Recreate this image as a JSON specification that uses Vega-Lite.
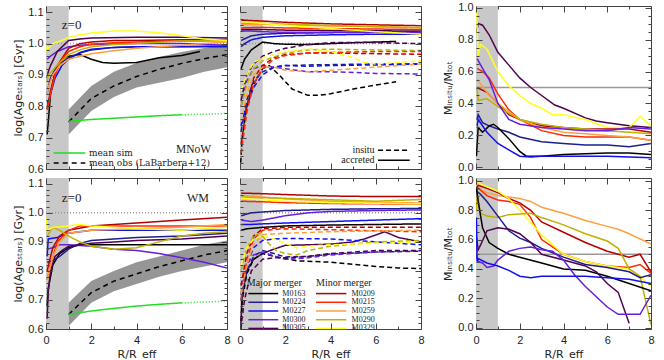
{
"$schema":"https://vega.github.io/schema/vega-lite/v6.json",
"background":"white",
"padding":{"left":12,"top":1,"right":2,"bottom":0},
"config":{
 "view":{"stroke":"#444","strokeWidth":1},
 "axis":{"domain":false,"grid":false,"tickColor":"#444","labelFont":"Liberation Sans","labelFontSize":11,"labelColor":"#222","titleFont":"DejaVu Sans","titleFontSize":11,"titleFontWeight":"normal","titleColor":"#222","labelOverlap":false,"labelFlush":false,"tickWidth":1},
 "text":{"font":"Liberation Serif","fontSize":10.5,"color":"#222"},
 "line":{"strokeWidth":1.5}
},
"datasets":{
"obs":[
{"r":"N","x":1,"lo":0.71,"hi":0.79,"m":0.75},{"r":"N","x":2,"lo":0.785,"hi":0.865,"m":0.825},{"r":"N","x":3,"lo":0.83,"hi":0.91,"m":0.865},{"r":"N","x":4,"lo":0.86,"hi":0.938,"m":0.895},{"r":"N","x":5,"lo":0.875,"hi":0.957,"m":0.918},{"r":"N","x":6,"lo":0.89,"hi":0.973,"m":0.937},{"r":"N","x":7,"lo":0.91,"hi":0.986,"m":0.952},{"r":"N","x":8,"lo":0.925,"hi":0.997,"m":0.965},
{"r":"W","x":1,"lo":0.61,"hi":0.69,"m":0.65},{"r":"W","x":2,"lo":0.69,"hi":0.765,"m":0.725},{"r":"W","x":3,"lo":0.73,"hi":0.8,"m":0.765},{"r":"W","x":4,"lo":0.755,"hi":0.83,"m":0.79},{"r":"W","x":5,"lo":0.78,"hi":0.85,"m":0.815},{"r":"W","x":6,"lo":0.8,"hi":0.87,"m":0.835},{"r":"W","x":7,"lo":0.815,"hi":0.89,"m":0.855},{"r":"W","x":8,"lo":0.83,"hi":0.905,"m":0.87}
],
"sim":[
{"r":"N","s":"s","x":1,"y":0.752},{"r":"N","s":"s","x":2,"y":0.758},{"r":"N","s":"s","x":3,"y":0.762},{"r":"N","s":"s","x":4,"y":0.766},{"r":"N","s":"s","x":5,"y":0.77},{"r":"N","s":"s","x":6,"y":0.773},{"r":"N","s":"d","x":6,"y":0.773},{"r":"N","s":"d","x":7,"y":0.775},{"r":"N","s":"d","x":8,"y":0.777},
{"r":"W","s":"s","x":1,"y":0.65},{"r":"W","s":"s","x":2,"y":0.662},{"r":"W","s":"s","x":3,"y":0.671},{"r":"W","s":"s","x":4,"y":0.679},{"r":"W","s":"s","x":5,"y":0.685},{"r":"W","s":"s","x":6,"y":0.69},{"r":"W","s":"d","x":6,"y":0.69},{"r":"W","s":"d","x":7,"y":0.693},{"r":"W","s":"d","x":8,"y":0.696}
],
"tot":[
{"r":"N","g":"M0163","x":0.05,"y":0.71},{"r":"N","g":"M0163","x":0.1,"y":0.75},{"r":"N","g":"M0163","x":0.2,"y":0.84},{"r":"N","g":"M0163","x":0.4,"y":0.91},{"r":"N","g":"M0163","x":0.7,"y":0.95},{"r":"N","g":"M0163","x":1,"y":0.96},{"r":"N","g":"M0163","x":1.5,"y":0.965},{"r":"N","g":"M0163","x":2,"y":0.95},{"r":"N","g":"M0163","x":2.5,"y":0.94},{"r":"N","g":"M0163","x":3,"y":0.937},{"r":"N","g":"M0163","x":4,"y":0.94},{"r":"N","g":"M0163","x":5,"y":0.955},{"r":"N","g":"M0163","x":6,"y":0.962},{"r":"N","g":"M0163","x":6.8,"y":0.975},
{"r":"N","g":"M0224","x":0.05,"y":0.84},{"r":"N","g":"M0224","x":0.1,"y":0.86},{"r":"N","g":"M0224","x":0.2,"y":0.89},{"r":"N","g":"M0224","x":0.5,"y":0.93},{"r":"N","g":"M0224","x":1,"y":0.955},{"r":"N","g":"M0224","x":1.5,"y":0.97},{"r":"N","g":"M0224","x":2,"y":0.98},{"r":"N","g":"M0224","x":3,"y":0.988},{"r":"N","g":"M0224","x":4,"y":0.99},{"r":"N","g":"M0224","x":6,"y":0.99},{"r":"N","g":"M0224","x":8,"y":0.99},
{"r":"N","g":"M0227","x":0.05,"y":0.82},{"r":"N","g":"M0227","x":0.1,"y":0.81},{"r":"N","g":"M0227","x":0.2,"y":0.84},{"r":"N","g":"M0227","x":0.4,"y":0.89},{"r":"N","g":"M0227","x":0.7,"y":0.93},{"r":"N","g":"M0227","x":1,"y":0.95},{"r":"N","g":"M0227","x":1.5,"y":0.972},{"r":"N","g":"M0227","x":2,"y":0.982},{"r":"N","g":"M0227","x":3,"y":0.988},{"r":"N","g":"M0227","x":4,"y":0.99},{"r":"N","g":"M0227","x":6,"y":0.991},{"r":"N","g":"M0227","x":8,"y":0.992},
{"r":"N","g":"M0300","x":0.05,"y":0.95},{"r":"N","g":"M0300","x":0.2,"y":0.96},{"r":"N","g":"M0300","x":0.5,"y":0.975},{"r":"N","g":"M0300","x":1,"y":0.99},{"r":"N","g":"M0300","x":1.5,"y":0.995},{"r":"N","g":"M0300","x":2,"y":0.997},{"r":"N","g":"M0300","x":4,"y":1.0},{"r":"N","g":"M0300","x":6,"y":1.0},{"r":"N","g":"M0300","x":8,"y":0.995},
{"r":"N","g":"M0305","x":0.05,"y":0.89},{"r":"N","g":"M0305","x":0.1,"y":0.91},{"r":"N","g":"M0305","x":0.2,"y":0.93},{"r":"N","g":"M0305","x":0.5,"y":0.975},{"r":"N","g":"M0305","x":1,"y":1.01},{"r":"N","g":"M0305","x":1.5,"y":1.015},{"r":"N","g":"M0305","x":2,"y":1.018},{"r":"N","g":"M0305","x":4,"y":1.02},{"r":"N","g":"M0305","x":6,"y":1.02},{"r":"N","g":"M0305","x":8,"y":1.018},
{"r":"N","g":"M0209","x":0.05,"y":0.79},{"r":"N","g":"M0209","x":0.1,"y":0.81},{"r":"N","g":"M0209","x":0.2,"y":0.85},{"r":"N","g":"M0209","x":0.5,"y":0.93},{"r":"N","g":"M0209","x":1,"y":0.985},{"r":"N","g":"M0209","x":1.5,"y":1.0},{"r":"N","g":"M0209","x":2,"y":1.005},{"r":"N","g":"M0209","x":3,"y":1.01},{"r":"N","g":"M0209","x":4,"y":1.01},{"r":"N","g":"M0209","x":6,"y":1.012},{"r":"N","g":"M0209","x":8,"y":1.012},
{"r":"N","g":"M0215","x":0.05,"y":0.79},{"r":"N","g":"M0215","x":0.1,"y":0.8},{"r":"N","g":"M0215","x":0.2,"y":0.84},{"r":"N","g":"M0215","x":0.4,"y":0.9},{"r":"N","g":"M0215","x":0.7,"y":0.95},{"r":"N","g":"M0215","x":1,"y":0.975},{"r":"N","g":"M0215","x":1.5,"y":0.99},{"r":"N","g":"M0215","x":2,"y":0.998},{"r":"N","g":"M0215","x":3,"y":1.003},{"r":"N","g":"M0215","x":4,"y":1.005},{"r":"N","g":"M0215","x":6,"y":1.008},{"r":"N","g":"M0215","x":8,"y":1.01},
{"r":"N","g":"M0259","x":0.05,"y":0.84},{"r":"N","g":"M0259","x":0.1,"y":0.86},{"r":"N","g":"M0259","x":0.3,"y":0.9},{"r":"N","g":"M0259","x":0.6,"y":0.93},{"r":"N","g":"M0259","x":1,"y":0.95},{"r":"N","g":"M0259","x":1.5,"y":0.96},{"r":"N","g":"M0259","x":2,"y":0.968},{"r":"N","g":"M0259","x":3,"y":0.977},{"r":"N","g":"M0259","x":4,"y":0.985},{"r":"N","g":"M0259","x":5,"y":0.99},{"r":"N","g":"M0259","x":6,"y":0.995},{"r":"N","g":"M0259","x":7,"y":1.0},{"r":"N","g":"M0259","x":8,"y":1.005},
{"r":"N","g":"M0290","x":0.05,"y":0.88},{"r":"N","g":"M0290","x":0.1,"y":0.9},{"r":"N","g":"M0290","x":0.3,"y":0.915},{"r":"N","g":"M0290","x":0.6,"y":0.94},{"r":"N","g":"M0290","x":1,"y":0.965},{"r":"N","g":"M0290","x":1.5,"y":0.98},{"r":"N","g":"M0290","x":2,"y":0.99},{"r":"N","g":"M0290","x":3,"y":0.997},{"r":"N","g":"M0290","x":4,"y":1.0},{"r":"N","g":"M0290","x":6,"y":1.008},{"r":"N","g":"M0290","x":8,"y":1.01},
{"r":"N","g":"M0329","x":0.02,"y":0.975},{"r":"N","g":"M0329","x":0.05,"y":0.99},{"r":"N","g":"M0329","x":0.1,"y":0.985},{"r":"N","g":"M0329","x":0.3,"y":1.0},{"r":"N","g":"M0329","x":0.7,"y":1.01},{"r":"N","g":"M0329","x":1,"y":1.02},{"r":"N","g":"M0329","x":1.5,"y":1.028},{"r":"N","g":"M0329","x":2,"y":1.034},{"r":"N","g":"M0329","x":3,"y":1.04},{"r":"N","g":"M0329","x":4,"y":1.04},{"r":"N","g":"M0329","x":5,"y":1.035},{"r":"N","g":"M0329","x":6,"y":1.025},{"r":"N","g":"M0329","x":7,"y":1.015},{"r":"N","g":"M0329","x":8,"y":1.01},
{"r":"W","g":"M0163","x":0.05,"y":0.68},{"r":"W","g":"M0163","x":0.1,"y":0.74},{"r":"W","g":"M0163","x":0.3,"y":0.82},{"r":"W","g":"M0163","x":0.6,"y":0.86},{"r":"W","g":"M0163","x":1,"y":0.88},{"r":"W","g":"M0163","x":1.5,"y":0.89},{"r":"W","g":"M0163","x":2,"y":0.89},{"r":"W","g":"M0163","x":4,"y":0.89},{"r":"W","g":"M0163","x":6,"y":0.89},{"r":"W","g":"M0163","x":8,"y":0.89},
{"r":"W","g":"M0224","x":0.05,"y":0.83},{"r":"W","g":"M0224","x":0.3,"y":0.835},{"r":"W","g":"M0224","x":0.6,"y":0.85},{"r":"W","g":"M0224","x":1,"y":0.875},{"r":"W","g":"M0224","x":1.5,"y":0.895},{"r":"W","g":"M0224","x":2,"y":0.905},{"r":"W","g":"M0224","x":3,"y":0.91},{"r":"W","g":"M0224","x":4,"y":0.915},{"r":"W","g":"M0224","x":6,"y":0.92},{"r":"W","g":"M0224","x":8,"y":0.93},
{"r":"W","g":"M0227","x":0.05,"y":0.85},{"r":"W","g":"M0227","x":0.1,"y":0.91},{"r":"W","g":"M0227","x":0.5,"y":0.915},{"r":"W","g":"M0227","x":1,"y":0.93},{"r":"W","g":"M0227","x":2,"y":0.94},{"r":"W","g":"M0227","x":4,"y":0.94},{"r":"W","g":"M0227","x":6,"y":0.94},{"r":"W","g":"M0227","x":8,"y":0.94},
{"r":"W","g":"M0300","x":0.05,"y":0.875},{"r":"W","g":"M0300","x":0.3,"y":0.88},{"r":"W","g":"M0300","x":0.6,"y":0.89},{"r":"W","g":"M0300","x":1,"y":0.89},{"r":"W","g":"M0300","x":2,"y":0.885},{"r":"W","g":"M0300","x":3,"y":0.875},{"r":"W","g":"M0300","x":4,"y":0.87},{"r":"W","g":"M0300","x":5,"y":0.86},{"r":"W","g":"M0300","x":6,"y":0.845},{"r":"W","g":"M0300","x":7,"y":0.83},{"r":"W","g":"M0300","x":8,"y":0.81},
{"r":"W","g":"M0305","x":0.05,"y":0.635},{"r":"W","g":"M0305","x":0.1,"y":0.73},{"r":"W","g":"M0305","x":0.2,"y":0.8},{"r":"W","g":"M0305","x":0.4,"y":0.85},{"r":"W","g":"M0305","x":0.7,"y":0.87},{"r":"W","g":"M0305","x":1,"y":0.885},{"r":"W","g":"M0305","x":2,"y":0.895},{"r":"W","g":"M0305","x":3,"y":0.9},{"r":"W","g":"M0305","x":4,"y":0.905},{"r":"W","g":"M0305","x":6,"y":0.91},{"r":"W","g":"M0305","x":8,"y":0.92},
{"r":"W","g":"M0209","x":0.05,"y":0.8},{"r":"W","g":"M0209","x":0.3,"y":0.88},{"r":"W","g":"M0209","x":0.6,"y":0.92},{"r":"W","g":"M0209","x":1,"y":0.94},{"r":"W","g":"M0209","x":2,"y":0.955},{"r":"W","g":"M0209","x":4,"y":0.965},{"r":"W","g":"M0209","x":6,"y":0.975},{"r":"W","g":"M0209","x":8,"y":0.985},
{"r":"W","g":"M0215","x":0.05,"y":0.77},{"r":"W","g":"M0215","x":0.2,"y":0.82},{"r":"W","g":"M0215","x":0.5,"y":0.9},{"r":"W","g":"M0215","x":1,"y":0.94},{"r":"W","g":"M0215","x":1.5,"y":0.955},{"r":"W","g":"M0215","x":2,"y":0.955},{"r":"W","g":"M0215","x":4,"y":0.955},{"r":"W","g":"M0215","x":6,"y":0.955},{"r":"W","g":"M0215","x":8,"y":0.955},
{"r":"W","g":"M0259","x":0.05,"y":0.77},{"r":"W","g":"M0259","x":0.3,"y":0.85},{"r":"W","g":"M0259","x":0.6,"y":0.9},{"r":"W","g":"M0259","x":1,"y":0.93},{"r":"W","g":"M0259","x":2,"y":0.94},{"r":"W","g":"M0259","x":4,"y":0.945},{"r":"W","g":"M0259","x":6,"y":0.95},{"r":"W","g":"M0259","x":8,"y":0.96},
{"r":"W","g":"M0290","x":0.05,"y":0.92},{"r":"W","g":"M0290","x":0.3,"y":0.95},{"r":"W","g":"M0290","x":0.6,"y":0.94},{"r":"W","g":"M0290","x":1,"y":0.92},{"r":"W","g":"M0290","x":1.5,"y":0.9},{"r":"W","g":"M0290","x":2,"y":0.885},{"r":"W","g":"M0290","x":3,"y":0.875},{"r":"W","g":"M0290","x":4,"y":0.88},{"r":"W","g":"M0290","x":5,"y":0.9},{"r":"W","g":"M0290","x":6,"y":0.92},{"r":"W","g":"M0290","x":7,"y":0.93},{"r":"W","g":"M0290","x":8,"y":0.935},
{"r":"W","g":"M0329","x":0.02,"y":0.98},{"r":"W","g":"M0329","x":0.05,"y":0.94},{"r":"W","g":"M0329","x":0.3,"y":0.95},{"r":"W","g":"M0329","x":1,"y":0.955},{"r":"W","g":"M0329","x":1.5,"y":0.96},{"r":"W","g":"M0329","x":2,"y":0.955},{"r":"W","g":"M0329","x":3,"y":0.95},{"r":"W","g":"M0329","x":4,"y":0.945},{"r":"W","g":"M0329","x":6,"y":0.94},{"r":"W","g":"M0329","x":8,"y":0.95}
],
"comp":[
{"r":"N","g":"M0163","c":"a","x":0.05,"y":0.92},{"r":"N","g":"M0163","c":"a","x":0.2,"y":0.95},{"r":"N","g":"M0163","c":"a","x":0.5,"y":0.98},{"r":"N","g":"M0163","c":"a","x":1,"y":1.005},{"r":"N","g":"M0163","c":"a","x":1.5,"y":1.0},{"r":"N","g":"M0163","c":"a","x":2,"y":0.998},{"r":"N","g":"M0163","c":"a","x":3,"y":0.997},{"r":"N","g":"M0163","c":"a","x":4,"y":1.0},{"r":"N","g":"M0163","c":"a","x":5,"y":1.003},{"r":"N","g":"M0163","c":"a","x":6,"y":1.005},{"r":"N","g":"M0163","c":"a","x":6.9,"y":1.007},
{"r":"N","g":"M0224","c":"a","x":0.05,"y":1.01},{"r":"N","g":"M0224","c":"a","x":0.5,"y":1.025},{"r":"N","g":"M0224","c":"a","x":1,"y":1.03},{"r":"N","g":"M0224","c":"a","x":2,"y":1.033},{"r":"N","g":"M0224","c":"a","x":4,"y":1.035},{"r":"N","g":"M0224","c":"a","x":6,"y":1.036},{"r":"N","g":"M0224","c":"a","x":8,"y":1.037},
{"r":"N","g":"M0227","c":"a","x":0.05,"y":0.99},{"r":"N","g":"M0227","c":"a","x":0.2,"y":1.0},{"r":"N","g":"M0227","c":"a","x":0.5,"y":1.012},{"r":"N","g":"M0227","c":"a","x":1,"y":1.02},{"r":"N","g":"M0227","c":"a","x":2,"y":1.025},{"r":"N","g":"M0227","c":"a","x":4,"y":1.028},{"r":"N","g":"M0227","c":"a","x":6,"y":1.03},{"r":"N","g":"M0227","c":"a","x":8,"y":1.03},
{"r":"N","g":"M0300","c":"a","x":0.05,"y":1.04},{"r":"N","g":"M0300","c":"a","x":0.5,"y":1.04},{"r":"N","g":"M0300","c":"a","x":1,"y":1.038},{"r":"N","g":"M0300","c":"a","x":2,"y":1.036},{"r":"N","g":"M0300","c":"a","x":4,"y":1.036},{"r":"N","g":"M0300","c":"a","x":6,"y":1.036},{"r":"N","g":"M0300","c":"a","x":8,"y":1.035},
{"r":"N","g":"M0305","c":"a","x":0.05,"y":1.045},{"r":"N","g":"M0305","c":"a","x":1,"y":1.045},{"r":"N","g":"M0305","c":"a","x":2,"y":1.043},{"r":"N","g":"M0305","c":"a","x":4,"y":1.042},{"r":"N","g":"M0305","c":"a","x":8,"y":1.04},
{"r":"N","g":"M0209","c":"a","x":0.05,"y":1.075},{"r":"N","g":"M0209","c":"a","x":1,"y":1.072},{"r":"N","g":"M0209","c":"a","x":2,"y":1.068},{"r":"N","g":"M0209","c":"a","x":4,"y":1.063},{"r":"N","g":"M0209","c":"a","x":6,"y":1.06},{"r":"N","g":"M0209","c":"a","x":8,"y":1.057},
{"r":"N","g":"M0215","c":"a","x":0.05,"y":1.05},{"r":"N","g":"M0215","c":"a","x":1,"y":1.052},{"r":"N","g":"M0215","c":"a","x":2,"y":1.05},{"r":"N","g":"M0215","c":"a","x":4,"y":1.048},{"r":"N","g":"M0215","c":"a","x":8,"y":1.045},
{"r":"N","g":"M0259","c":"a","x":0.05,"y":1.06},{"r":"N","g":"M0259","c":"a","x":1,"y":1.062},{"r":"N","g":"M0259","c":"a","x":2,"y":1.06},{"r":"N","g":"M0259","c":"a","x":4,"y":1.056},{"r":"N","g":"M0259","c":"a","x":8,"y":1.052},
{"r":"N","g":"M0290","c":"a","x":0.05,"y":1.065},{"r":"N","g":"M0290","c":"a","x":1,"y":1.065},{"r":"N","g":"M0290","c":"a","x":2,"y":1.062},{"r":"N","g":"M0290","c":"a","x":4,"y":1.058},{"r":"N","g":"M0290","c":"a","x":8,"y":1.05},
{"r":"N","g":"M0329","c":"a","x":0.05,"y":1.07},{"r":"N","g":"M0329","c":"a","x":1,"y":1.065},{"r":"N","g":"M0329","c":"a","x":2,"y":1.058},{"r":"N","g":"M0329","c":"a","x":4,"y":1.048},{"r":"N","g":"M0329","c":"a","x":6,"y":1.038},{"r":"N","g":"M0329","c":"a","x":8,"y":1.03},
{"r":"N","g":"M0163","c":"i","x":0.03,"y":0.62},{"r":"N","g":"M0163","c":"i","x":0.1,"y":0.7},{"r":"N","g":"M0163","c":"i","x":0.3,"y":0.8},{"r":"N","g":"M0163","c":"i","x":0.6,"y":0.87},{"r":"N","g":"M0163","c":"i","x":1,"y":0.92},{"r":"N","g":"M0163","c":"i","x":1.3,"y":0.93},{"r":"N","g":"M0163","c":"i","x":1.8,"y":0.895},{"r":"N","g":"M0163","c":"i","x":2.3,"y":0.855},{"r":"N","g":"M0163","c":"i","x":3,"y":0.835},{"r":"N","g":"M0163","c":"i","x":3.5,"y":0.835},{"r":"N","g":"M0163","c":"i","x":4,"y":0.84},{"r":"N","g":"M0163","c":"i","x":5,"y":0.855},{"r":"N","g":"M0163","c":"i","x":6,"y":0.868},{"r":"N","g":"M0163","c":"i","x":6.9,"y":0.878},
{"r":"N","g":"M0224","c":"i","x":0.05,"y":0.72},{"r":"N","g":"M0224","c":"i","x":0.3,"y":0.82},{"r":"N","g":"M0224","c":"i","x":0.6,"y":0.88},{"r":"N","g":"M0224","c":"i","x":1,"y":0.91},{"r":"N","g":"M0224","c":"i","x":1.5,"y":0.925},{"r":"N","g":"M0224","c":"i","x":2,"y":0.93},{"r":"N","g":"M0224","c":"i","x":3,"y":0.932},{"r":"N","g":"M0224","c":"i","x":4,"y":0.933},{"r":"N","g":"M0224","c":"i","x":6,"y":0.935},{"r":"N","g":"M0224","c":"i","x":8,"y":0.935},
{"r":"N","g":"M0227","c":"i","x":0.05,"y":0.74},{"r":"N","g":"M0227","c":"i","x":0.3,"y":0.8},{"r":"N","g":"M0227","c":"i","x":0.6,"y":0.86},{"r":"N","g":"M0227","c":"i","x":1,"y":0.9},{"r":"N","g":"M0227","c":"i","x":1.5,"y":0.925},{"r":"N","g":"M0227","c":"i","x":2,"y":0.93},{"r":"N","g":"M0227","c":"i","x":3,"y":0.928},{"r":"N","g":"M0227","c":"i","x":4,"y":0.93},{"r":"N","g":"M0227","c":"i","x":6,"y":0.932},{"r":"N","g":"M0227","c":"i","x":8,"y":0.935},
{"r":"N","g":"M0300","c":"i","x":0.05,"y":0.8},{"r":"N","g":"M0300","c":"i","x":0.3,"y":0.88},{"r":"N","g":"M0300","c":"i","x":0.6,"y":0.92},{"r":"N","g":"M0300","c":"i","x":1,"y":0.93},{"r":"N","g":"M0300","c":"i","x":2,"y":0.92},{"r":"N","g":"M0300","c":"i","x":3,"y":0.91},{"r":"N","g":"M0300","c":"i","x":4,"y":0.91},{"r":"N","g":"M0300","c":"i","x":5,"y":0.908},{"r":"N","g":"M0300","c":"i","x":6,"y":0.905},{"r":"N","g":"M0300","c":"i","x":8,"y":0.903},
{"r":"N","g":"M0305","c":"i","x":0.05,"y":0.82},{"r":"N","g":"M0305","c":"i","x":0.3,"y":0.9},{"r":"N","g":"M0305","c":"i","x":0.6,"y":0.935},{"r":"N","g":"M0305","c":"i","x":1,"y":0.96},{"r":"N","g":"M0305","c":"i","x":1.5,"y":0.975},{"r":"N","g":"M0305","c":"i","x":2,"y":0.985},{"r":"N","g":"M0305","c":"i","x":3,"y":0.997},{"r":"N","g":"M0305","c":"i","x":4,"y":1.003},{"r":"N","g":"M0305","c":"i","x":5,"y":1.004},{"r":"N","g":"M0305","c":"i","x":6,"y":1.003},{"r":"N","g":"M0305","c":"i","x":8,"y":1.0},
{"r":"N","g":"M0209","c":"i","x":0.05,"y":0.68},{"r":"N","g":"M0209","c":"i","x":0.3,"y":0.8},{"r":"N","g":"M0209","c":"i","x":0.6,"y":0.89},{"r":"N","g":"M0209","c":"i","x":1,"y":0.93},{"r":"N","g":"M0209","c":"i","x":1.5,"y":0.955},{"r":"N","g":"M0209","c":"i","x":2,"y":0.965},{"r":"N","g":"M0209","c":"i","x":3,"y":0.97},{"r":"N","g":"M0209","c":"i","x":4,"y":0.97},{"r":"N","g":"M0209","c":"i","x":6,"y":0.968},{"r":"N","g":"M0209","c":"i","x":8,"y":0.966},
{"r":"N","g":"M0215","c":"i","x":0.05,"y":0.65},{"r":"N","g":"M0215","c":"i","x":0.3,"y":0.78},{"r":"N","g":"M0215","c":"i","x":0.6,"y":0.87},{"r":"N","g":"M0215","c":"i","x":1,"y":0.92},{"r":"N","g":"M0215","c":"i","x":1.5,"y":0.95},{"r":"N","g":"M0215","c":"i","x":2,"y":0.962},{"r":"N","g":"M0215","c":"i","x":3,"y":0.97},{"r":"N","g":"M0215","c":"i","x":4,"y":0.972},{"r":"N","g":"M0215","c":"i","x":6,"y":0.975},{"r":"N","g":"M0215","c":"i","x":8,"y":0.975},
{"r":"N","g":"M0259","c":"i","x":0.05,"y":0.75},{"r":"N","g":"M0259","c":"i","x":0.3,"y":0.84},{"r":"N","g":"M0259","c":"i","x":0.6,"y":0.9},{"r":"N","g":"M0259","c":"i","x":1,"y":0.925},{"r":"N","g":"M0259","c":"i","x":1.5,"y":0.925},{"r":"N","g":"M0259","c":"i","x":2,"y":0.915},{"r":"N","g":"M0259","c":"i","x":3,"y":0.91},{"r":"N","g":"M0259","c":"i","x":4,"y":0.915},{"r":"N","g":"M0259","c":"i","x":5,"y":0.92},{"r":"N","g":"M0259","c":"i","x":6,"y":0.925},{"r":"N","g":"M0259","c":"i","x":8,"y":0.935},
{"r":"N","g":"M0290","c":"i","x":0.05,"y":0.8},{"r":"N","g":"M0290","c":"i","x":0.3,"y":0.87},{"r":"N","g":"M0290","c":"i","x":0.6,"y":0.92},{"r":"N","g":"M0290","c":"i","x":1,"y":0.945},{"r":"N","g":"M0290","c":"i","x":2,"y":0.97},{"r":"N","g":"M0290","c":"i","x":3,"y":0.98},{"r":"N","g":"M0290","c":"i","x":4,"y":0.982},{"r":"N","g":"M0290","c":"i","x":6,"y":0.98},{"r":"N","g":"M0290","c":"i","x":8,"y":0.978},
{"r":"N","g":"M0329","c":"i","x":0.05,"y":0.85},{"r":"N","g":"M0329","c":"i","x":0.3,"y":0.9},{"r":"N","g":"M0329","c":"i","x":0.6,"y":0.94},{"r":"N","g":"M0329","c":"i","x":1,"y":0.955},{"r":"N","g":"M0329","c":"i","x":2,"y":0.975},{"r":"N","g":"M0329","c":"i","x":3,"y":0.983},{"r":"N","g":"M0329","c":"i","x":4,"y":0.975},{"r":"N","g":"M0329","c":"i","x":5,"y":0.955},{"r":"N","g":"M0329","c":"i","x":5.5,"y":0.94},{"r":"N","g":"M0329","c":"i","x":6,"y":0.935},{"r":"N","g":"M0329","c":"i","x":7,"y":0.94},{"r":"N","g":"M0329","c":"i","x":8,"y":0.945},
{"r":"W","g":"M0163","c":"a","x":0.05,"y":0.94},{"r":"W","g":"M0163","c":"a","x":0.3,"y":0.945},{"r":"W","g":"M0163","c":"a","x":1,"y":0.95},{"r":"W","g":"M0163","c":"a","x":2,"y":0.955},{"r":"W","g":"M0163","c":"a","x":4,"y":0.958},{"r":"W","g":"M0163","c":"a","x":6,"y":0.96},{"r":"W","g":"M0163","c":"a","x":8,"y":0.962},
{"r":"W","g":"M0224","c":"a","x":0.05,"y":0.99},{"r":"W","g":"M0224","c":"a","x":0.5,"y":1.0},{"r":"W","g":"M0224","c":"a","x":1,"y":1.003},{"r":"W","g":"M0224","c":"a","x":2,"y":1.008},{"r":"W","g":"M0224","c":"a","x":4,"y":1.012},{"r":"W","g":"M0224","c":"a","x":6,"y":1.014},{"r":"W","g":"M0224","c":"a","x":8,"y":1.015},
{"r":"W","g":"M0227","c":"a","x":0.05,"y":0.96},{"r":"W","g":"M0227","c":"a","x":0.5,"y":0.96},{"r":"W","g":"M0227","c":"a","x":1,"y":0.962},{"r":"W","g":"M0227","c":"a","x":2,"y":0.965},{"r":"W","g":"M0227","c":"a","x":4,"y":0.97},{"r":"W","g":"M0227","c":"a","x":6,"y":0.975},{"r":"W","g":"M0227","c":"a","x":8,"y":0.98},
{"r":"W","g":"M0300","c":"a","x":0.05,"y":0.975},{"r":"W","g":"M0300","c":"a","x":0.5,"y":0.97},{"r":"W","g":"M0300","c":"a","x":1,"y":0.975},{"r":"W","g":"M0300","c":"a","x":2,"y":0.99},{"r":"W","g":"M0300","c":"a","x":3,"y":1.0},{"r":"W","g":"M0300","c":"a","x":4,"y":1.005},{"r":"W","g":"M0300","c":"a","x":6,"y":1.008},{"r":"W","g":"M0300","c":"a","x":8,"y":1.01},
{"r":"W","g":"M0305","c":"a","x":0.03,"y":0.6},{"r":"W","g":"M0305","c":"a","x":0.1,"y":0.72},{"r":"W","g":"M0305","c":"a","x":0.3,"y":0.8},{"r":"W","g":"M0305","c":"a","x":0.6,"y":0.84},{"r":"W","g":"M0305","c":"a","x":1,"y":0.86},{"r":"W","g":"M0305","c":"a","x":1.5,"y":0.875},{"r":"W","g":"M0305","c":"a","x":2,"y":0.888},{"r":"W","g":"M0305","c":"a","x":3,"y":0.89},{"r":"W","g":"M0305","c":"a","x":4,"y":0.892},{"r":"W","g":"M0305","c":"a","x":5,"y":0.9},{"r":"W","g":"M0305","c":"a","x":5.5,"y":0.91},{"r":"W","g":"M0305","c":"a","x":6.4,"y":0.935},{"r":"W","g":"M0305","c":"a","x":7,"y":0.915},{"r":"W","g":"M0305","c":"a","x":8,"y":0.9},
{"r":"W","g":"M0209","c":"a","x":0.05,"y":1.068},{"r":"W","g":"M0209","c":"a","x":1,"y":1.066},{"r":"W","g":"M0209","c":"a","x":2,"y":1.063},{"r":"W","g":"M0209","c":"a","x":4,"y":1.058},{"r":"W","g":"M0209","c":"a","x":6,"y":1.056},{"r":"W","g":"M0209","c":"a","x":8,"y":1.056},
{"r":"W","g":"M0215","c":"a","x":0.05,"y":1.04},{"r":"W","g":"M0215","c":"a","x":1,"y":1.038},{"r":"W","g":"M0215","c":"a","x":2,"y":1.035},{"r":"W","g":"M0215","c":"a","x":4,"y":1.032},{"r":"W","g":"M0215","c":"a","x":8,"y":1.03},
{"r":"W","g":"M0259","c":"a","x":0.05,"y":1.06},{"r":"W","g":"M0259","c":"a","x":1,"y":1.055},{"r":"W","g":"M0259","c":"a","x":2,"y":1.048},{"r":"W","g":"M0259","c":"a","x":4,"y":1.04},{"r":"W","g":"M0259","c":"a","x":6,"y":1.036},{"r":"W","g":"M0259","c":"a","x":8,"y":1.034},
{"r":"W","g":"M0290","c":"a","x":0.05,"y":1.055},{"r":"W","g":"M0290","c":"a","x":1,"y":1.052},{"r":"W","g":"M0290","c":"a","x":2,"y":1.05},{"r":"W","g":"M0290","c":"a","x":4,"y":1.045},{"r":"W","g":"M0290","c":"a","x":6,"y":1.04},{"r":"W","g":"M0290","c":"a","x":8,"y":1.046},
{"r":"W","g":"M0329","c":"a","x":0.05,"y":1.05},{"r":"W","g":"M0329","c":"a","x":1,"y":1.045},{"r":"W","g":"M0329","c":"a","x":2,"y":1.04},{"r":"W","g":"M0329","c":"a","x":4,"y":1.035},{"r":"W","g":"M0329","c":"a","x":6,"y":1.033},{"r":"W","g":"M0329","c":"a","x":8,"y":1.031},
{"r":"W","g":"M0163","c":"i","x":0.03,"y":0.6},{"r":"W","g":"M0163","c":"i","x":0.1,"y":0.7},{"r":"W","g":"M0163","c":"i","x":0.3,"y":0.79},{"r":"W","g":"M0163","c":"i","x":0.6,"y":0.84},{"r":"W","g":"M0163","c":"i","x":1,"y":0.86},{"r":"W","g":"M0163","c":"i","x":1.5,"y":0.85},{"r":"W","g":"M0163","c":"i","x":2.5,"y":0.835},{"r":"W","g":"M0163","c":"i","x":4,"y":0.83},{"r":"W","g":"M0163","c":"i","x":5,"y":0.823},{"r":"W","g":"M0163","c":"i","x":6,"y":0.815},{"r":"W","g":"M0163","c":"i","x":7,"y":0.81},{"r":"W","g":"M0163","c":"i","x":8,"y":0.808},
{"r":"W","g":"M0224","c":"i","x":0.05,"y":0.7},{"r":"W","g":"M0224","c":"i","x":0.3,"y":0.8},{"r":"W","g":"M0224","c":"i","x":0.6,"y":0.85},{"r":"W","g":"M0224","c":"i","x":1,"y":0.87},{"r":"W","g":"M0224","c":"i","x":1.5,"y":0.86},{"r":"W","g":"M0224","c":"i","x":2,"y":0.848},{"r":"W","g":"M0224","c":"i","x":3,"y":0.85},{"r":"W","g":"M0224","c":"i","x":4,"y":0.858},{"r":"W","g":"M0224","c":"i","x":6,"y":0.865},{"r":"W","g":"M0224","c":"i","x":8,"y":0.868},
{"r":"W","g":"M0227","c":"i","x":0.05,"y":0.72},{"r":"W","g":"M0227","c":"i","x":0.3,"y":0.82},{"r":"W","g":"M0227","c":"i","x":0.6,"y":0.88},{"r":"W","g":"M0227","c":"i","x":1,"y":0.905},{"r":"W","g":"M0227","c":"i","x":1.5,"y":0.91},{"r":"W","g":"M0227","c":"i","x":2,"y":0.912},{"r":"W","g":"M0227","c":"i","x":4,"y":0.91},{"r":"W","g":"M0227","c":"i","x":6,"y":0.9},{"r":"W","g":"M0227","c":"i","x":8,"y":0.89},
{"r":"W","g":"M0300","c":"i","x":0.05,"y":0.75},{"r":"W","g":"M0300","c":"i","x":0.3,"y":0.82},{"r":"W","g":"M0300","c":"i","x":0.6,"y":0.855},{"r":"W","g":"M0300","c":"i","x":1,"y":0.865},{"r":"W","g":"M0300","c":"i","x":1.5,"y":0.852},{"r":"W","g":"M0300","c":"i","x":2,"y":0.84},{"r":"W","g":"M0300","c":"i","x":3,"y":0.845},{"r":"W","g":"M0300","c":"i","x":4,"y":0.855},{"r":"W","g":"M0300","c":"i","x":5,"y":0.86},{"r":"W","g":"M0300","c":"i","x":6,"y":0.865},{"r":"W","g":"M0300","c":"i","x":8,"y":0.87},
{"r":"W","g":"M0305","c":"i","x":0.03,"y":0.6},{"r":"W","g":"M0305","c":"i","x":0.2,"y":0.7},{"r":"W","g":"M0305","c":"i","x":0.5,"y":0.8},{"r":"W","g":"M0305","c":"i","x":1,"y":0.84},{"r":"W","g":"M0305","c":"i","x":1.5,"y":0.845},{"r":"W","g":"M0305","c":"i","x":2,"y":0.845},{"r":"W","g":"M0305","c":"i","x":3,"y":0.85},{"r":"W","g":"M0305","c":"i","x":4,"y":0.86},{"r":"W","g":"M0305","c":"i","x":6,"y":0.87},{"r":"W","g":"M0305","c":"i","x":8,"y":0.87},
{"r":"W","g":"M0209","c":"i","x":0.05,"y":0.75},{"r":"W","g":"M0209","c":"i","x":0.3,"y":0.86},{"r":"W","g":"M0209","c":"i","x":0.6,"y":0.92},{"r":"W","g":"M0209","c":"i","x":1,"y":0.945},{"r":"W","g":"M0209","c":"i","x":2,"y":0.95},{"r":"W","g":"M0209","c":"i","x":4,"y":0.95},{"r":"W","g":"M0209","c":"i","x":6,"y":0.95},{"r":"W","g":"M0209","c":"i","x":8,"y":0.95},
{"r":"W","g":"M0215","c":"i","x":0.05,"y":0.7},{"r":"W","g":"M0215","c":"i","x":0.3,"y":0.84},{"r":"W","g":"M0215","c":"i","x":0.6,"y":0.91},{"r":"W","g":"M0215","c":"i","x":1,"y":0.94},{"r":"W","g":"M0215","c":"i","x":2,"y":0.945},{"r":"W","g":"M0215","c":"i","x":4,"y":0.942},{"r":"W","g":"M0215","c":"i","x":6,"y":0.938},{"r":"W","g":"M0215","c":"i","x":8,"y":0.935},
{"r":"W","g":"M0259","c":"i","x":0.05,"y":0.72},{"r":"W","g":"M0259","c":"i","x":0.3,"y":0.82},{"r":"W","g":"M0259","c":"i","x":0.6,"y":0.89},{"r":"W","g":"M0259","c":"i","x":1,"y":0.925},{"r":"W","g":"M0259","c":"i","x":2,"y":0.93},{"r":"W","g":"M0259","c":"i","x":4,"y":0.935},{"r":"W","g":"M0259","c":"i","x":6,"y":0.938},{"r":"W","g":"M0259","c":"i","x":8,"y":0.94},
{"r":"W","g":"M0290","c":"i","x":0.05,"y":0.8},{"r":"W","g":"M0290","c":"i","x":0.3,"y":0.88},{"r":"W","g":"M0290","c":"i","x":0.6,"y":0.92},{"r":"W","g":"M0290","c":"i","x":0.9,"y":0.93},{"r":"W","g":"M0290","c":"i","x":1.2,"y":0.9},{"r":"W","g":"M0290","c":"i","x":1.6,"y":0.87},{"r":"W","g":"M0290","c":"i","x":2,"y":0.86},{"r":"W","g":"M0290","c":"i","x":2.5,"y":0.855},{"r":"W","g":"M0290","c":"i","x":3,"y":0.87},{"r":"W","g":"M0290","c":"i","x":4,"y":0.885},{"r":"W","g":"M0290","c":"i","x":6,"y":0.9},{"r":"W","g":"M0290","c":"i","x":8,"y":0.905},
{"r":"W","g":"M0329","c":"i","x":0.05,"y":0.82},{"r":"W","g":"M0329","c":"i","x":0.3,"y":0.88},{"r":"W","g":"M0329","c":"i","x":0.6,"y":0.91},{"r":"W","g":"M0329","c":"i","x":1,"y":0.92},{"r":"W","g":"M0329","c":"i","x":1.5,"y":0.91},{"r":"W","g":"M0329","c":"i","x":2,"y":0.895},{"r":"W","g":"M0329","c":"i","x":2.5,"y":0.88},{"r":"W","g":"M0329","c":"i","x":3,"y":0.885},{"r":"W","g":"M0329","c":"i","x":4,"y":0.89},{"r":"W","g":"M0329","c":"i","x":6,"y":0.895},{"r":"W","g":"M0329","c":"i","x":8,"y":0.9}
],
"frac":[
{"r":"N","g":"M0305","x":0.03,"y":0.85},{"r":"N","g":"M0305","x":0.1,"y":0.9},{"r":"N","g":"M0305","x":0.3,"y":0.89},{"r":"N","g":"M0305","x":0.6,"y":0.83},{"r":"N","g":"M0305","x":1,"y":0.72},{"r":"N","g":"M0305","x":1.5,"y":0.64},{"r":"N","g":"M0305","x":2,"y":0.56},{"r":"N","g":"M0305","x":2.5,"y":0.5},{"r":"N","g":"M0305","x":3,"y":0.45},{"r":"N","g":"M0305","x":3.6,"y":0.39},{"r":"N","g":"M0305","x":4,"y":0.37},{"r":"N","g":"M0305","x":5,"y":0.31},{"r":"N","g":"M0305","x":5.5,"y":0.29},{"r":"N","g":"M0305","x":6,"y":0.28},{"r":"N","g":"M0305","x":7,"y":0.26},{"r":"N","g":"M0305","x":8,"y":0.25},
{"r":"N","g":"M0329","x":0.02,"y":1.0},{"r":"N","g":"M0329","x":0.1,"y":0.7},{"r":"N","g":"M0329","x":0.2,"y":0.77},{"r":"N","g":"M0329","x":0.5,"y":0.74},{"r":"N","g":"M0329","x":1,"y":0.6},{"r":"N","g":"M0329","x":1.5,"y":0.51},{"r":"N","g":"M0329","x":2,"y":0.45},{"r":"N","g":"M0329","x":2.5,"y":0.4},{"r":"N","g":"M0329","x":3,"y":0.37},{"r":"N","g":"M0329","x":3.5,"y":0.33},{"r":"N","g":"M0329","x":4,"y":0.33},{"r":"N","g":"M0329","x":5,"y":0.3},{"r":"N","g":"M0329","x":6,"y":0.25},{"r":"N","g":"M0329","x":7,"y":0.25},{"r":"N","g":"M0329","x":7.5,"y":0.32},{"r":"N","g":"M0329","x":8,"y":0.26},
{"r":"N","g":"M0215","x":0.05,"y":0.62},{"r":"N","g":"M0215","x":0.3,"y":0.6},{"r":"N","g":"M0215","x":0.6,"y":0.56},{"r":"N","g":"M0215","x":1,"y":0.46},{"r":"N","g":"M0215","x":1.5,"y":0.36},{"r":"N","g":"M0215","x":2,"y":0.3},{"r":"N","g":"M0215","x":3,"y":0.23},{"r":"N","g":"M0215","x":4,"y":0.2},{"r":"N","g":"M0215","x":5,"y":0.19},{"r":"N","g":"M0215","x":6,"y":0.19},{"r":"N","g":"M0215","x":7,"y":0.19},{"r":"N","g":"M0215","x":8,"y":0.17},
{"r":"N","g":"M0209","x":0.05,"y":0.5},{"r":"N","g":"M0209","x":0.5,"y":0.47},{"r":"N","g":"M0209","x":1,"y":0.4},{"r":"N","g":"M0209","x":1.5,"y":0.33},{"r":"N","g":"M0209","x":2,"y":0.3},{"r":"N","g":"M0209","x":3,"y":0.26},{"r":"N","g":"M0209","x":4,"y":0.25},{"r":"N","g":"M0209","x":5,"y":0.24},{"r":"N","g":"M0209","x":6,"y":0.24},{"r":"N","g":"M0209","x":7,"y":0.24},{"r":"N","g":"M0209","x":8,"y":0.22},
{"r":"N","g":"M0259","x":0.05,"y":0.55},{"r":"N","g":"M0259","x":0.5,"y":0.47},{"r":"N","g":"M0259","x":1,"y":0.4},{"r":"N","g":"M0259","x":2,"y":0.3},{"r":"N","g":"M0259","x":3,"y":0.25},{"r":"N","g":"M0259","x":4,"y":0.22},{"r":"N","g":"M0259","x":5,"y":0.21},{"r":"N","g":"M0259","x":6,"y":0.2},{"r":"N","g":"M0259","x":7,"y":0.19},{"r":"N","g":"M0259","x":8,"y":0.17},
{"r":"N","g":"M0290","x":0.05,"y":0.5},{"r":"N","g":"M0290","x":0.1,"y":0.42},{"r":"N","g":"M0290","x":0.5,"y":0.43},{"r":"N","g":"M0290","x":1,"y":0.38},{"r":"N","g":"M0290","x":1.5,"y":0.34},{"r":"N","g":"M0290","x":2,"y":0.3},{"r":"N","g":"M0290","x":3,"y":0.27},{"r":"N","g":"M0290","x":4,"y":0.25},{"r":"N","g":"M0290","x":5,"y":0.24},{"r":"N","g":"M0290","x":6,"y":0.23},{"r":"N","g":"M0290","x":7,"y":0.22},{"r":"N","g":"M0290","x":8,"y":0.21},
{"r":"N","g":"M0300","x":0.05,"y":0.68},{"r":"N","g":"M0300","x":0.3,"y":0.62},{"r":"N","g":"M0300","x":0.6,"y":0.55},{"r":"N","g":"M0300","x":1,"y":0.4},{"r":"N","g":"M0300","x":1.5,"y":0.3},{"r":"N","g":"M0300","x":2,"y":0.27},{"r":"N","g":"M0300","x":3,"y":0.25},{"r":"N","g":"M0300","x":4,"y":0.24},{"r":"N","g":"M0300","x":5,"y":0.23},{"r":"N","g":"M0300","x":6,"y":0.23},{"r":"N","g":"M0300","x":7,"y":0.25},{"r":"N","g":"M0300","x":8,"y":0.24},
{"r":"N","g":"M0224","x":0.05,"y":0.3},{"r":"N","g":"M0224","x":0.1,"y":0.33},{"r":"N","g":"M0224","x":0.3,"y":0.28},{"r":"N","g":"M0224","x":0.6,"y":0.26},{"r":"N","g":"M0224","x":1,"y":0.24},{"r":"N","g":"M0224","x":1.5,"y":0.22},{"r":"N","g":"M0224","x":2,"y":0.19},{"r":"N","g":"M0224","x":3,"y":0.16},{"r":"N","g":"M0224","x":4,"y":0.15},{"r":"N","g":"M0224","x":5,"y":0.14},{"r":"N","g":"M0224","x":6,"y":0.14},{"r":"N","g":"M0224","x":7,"y":0.13},{"r":"N","g":"M0224","x":8,"y":0.15},
{"r":"N","g":"M0163","x":0.02,"y":0.07},{"r":"N","g":"M0163","x":0.1,"y":0.25},{"r":"N","g":"M0163","x":0.3,"y":0.22},{"r":"N","g":"M0163","x":0.6,"y":0.26},{"r":"N","g":"M0163","x":0.8,"y":0.27},{"r":"N","g":"M0163","x":1,"y":0.25},{"r":"N","g":"M0163","x":1.5,"y":0.18},{"r":"N","g":"M0163","x":2,"y":0.1},{"r":"N","g":"M0163","x":2.3,"y":0.07},{"r":"N","g":"M0163","x":3,"y":0.07},{"r":"N","g":"M0163","x":4,"y":0.08},{"r":"N","g":"M0163","x":5,"y":0.085},{"r":"N","g":"M0163","x":6,"y":0.09},{"r":"N","g":"M0163","x":7,"y":0.09},{"r":"N","g":"M0163","x":8,"y":0.08},
{"r":"N","g":"M0227","x":0.05,"y":0.26},{"r":"N","g":"M0227","x":0.1,"y":0.3},{"r":"N","g":"M0227","x":0.5,"y":0.22},{"r":"N","g":"M0227","x":1,"y":0.15},{"r":"N","g":"M0227","x":1.5,"y":0.11},{"r":"N","g":"M0227","x":2,"y":0.07},{"r":"N","g":"M0227","x":2.5,"y":0.065},{"r":"N","g":"M0227","x":3,"y":0.07},{"r":"N","g":"M0227","x":4,"y":0.07},{"r":"N","g":"M0227","x":6,"y":0.07},{"r":"N","g":"M0227","x":8,"y":0.06},
{"r":"W","g":"M0259","x":0.02,"y":0.98},{"r":"W","g":"M0259","x":0.1,"y":0.95},{"r":"W","g":"M0259","x":0.5,"y":0.92},{"r":"W","g":"M0259","x":1,"y":0.9},{"r":"W","g":"M0259","x":1.5,"y":0.89},{"r":"W","g":"M0259","x":2,"y":0.88},{"r":"W","g":"M0259","x":2.5,"y":0.86},{"r":"W","g":"M0259","x":3,"y":0.82},{"r":"W","g":"M0259","x":4,"y":0.78},{"r":"W","g":"M0259","x":5,"y":0.73},{"r":"W","g":"M0259","x":6,"y":0.69},{"r":"W","g":"M0259","x":6.5,"y":0.67},{"r":"W","g":"M0259","x":7,"y":0.64},{"r":"W","g":"M0259","x":8,"y":0.57},
{"r":"W","g":"M0209","x":0.02,"y":0.95},{"r":"W","g":"M0209","x":0.1,"y":0.97},{"r":"W","g":"M0209","x":0.5,"y":0.95},{"r":"W","g":"M0209","x":1,"y":0.92},{"r":"W","g":"M0209","x":1.5,"y":0.88},{"r":"W","g":"M0209","x":2,"y":0.85},{"r":"W","g":"M0209","x":2.5,"y":0.8},{"r":"W","g":"M0209","x":3,"y":0.72},{"r":"W","g":"M0209","x":4,"y":0.65},{"r":"W","g":"M0209","x":5,"y":0.58},{"r":"W","g":"M0209","x":6,"y":0.52},{"r":"W","g":"M0209","x":7,"y":0.48},{"r":"W","g":"M0209","x":7.5,"y":0.5},{"r":"W","g":"M0209","x":8,"y":0.38},
{"r":"W","g":"M0215","x":0.02,"y":0.93},{"r":"W","g":"M0215","x":0.1,"y":0.95},{"r":"W","g":"M0215","x":0.5,"y":0.9},{"r":"W","g":"M0215","x":1,"y":0.87},{"r":"W","g":"M0215","x":1.5,"y":0.86},{"r":"W","g":"M0215","x":2,"y":0.84},{"r":"W","g":"M0215","x":2.5,"y":0.75},{"r":"W","g":"M0215","x":3,"y":0.6},{"r":"W","g":"M0215","x":4,"y":0.5},{"r":"W","g":"M0215","x":5,"y":0.45},{"r":"W","g":"M0215","x":6,"y":0.42},{"r":"W","g":"M0215","x":7,"y":0.41},{"r":"W","g":"M0215","x":7.5,"y":0.43},{"r":"W","g":"M0215","x":8,"y":0.37},
{"r":"W","g":"M0329","x":0.02,"y":1.0},{"r":"W","g":"M0329","x":0.2,"y":0.98},{"r":"W","g":"M0329","x":0.5,"y":0.96},{"r":"W","g":"M0329","x":1,"y":0.93},{"r":"W","g":"M0329","x":1.5,"y":0.88},{"r":"W","g":"M0329","x":2,"y":0.8},{"r":"W","g":"M0329","x":2.5,"y":0.72},{"r":"W","g":"M0329","x":3,"y":0.63},{"r":"W","g":"M0329","x":4,"y":0.5},{"r":"W","g":"M0329","x":5,"y":0.45},{"r":"W","g":"M0329","x":6,"y":0.42},{"r":"W","g":"M0329","x":7,"y":0.4},{"r":"W","g":"M0329","x":7.5,"y":0.35},{"r":"W","g":"M0329","x":8,"y":0.28},
{"r":"W","g":"M0290","x":0.02,"y":0.8},{"r":"W","g":"M0290","x":0.05,"y":0.92},{"r":"W","g":"M0290","x":0.2,"y":0.78},{"r":"W","g":"M0290","x":0.5,"y":0.76},{"r":"W","g":"M0290","x":1,"y":0.75},{"r":"W","g":"M0290","x":1.5,"y":0.77},{"r":"W","g":"M0290","x":2,"y":0.775},{"r":"W","g":"M0290","x":2.5,"y":0.78},{"r":"W","g":"M0290","x":3,"y":0.75},{"r":"W","g":"M0290","x":4,"y":0.7},{"r":"W","g":"M0290","x":5,"y":0.64},{"r":"W","g":"M0290","x":6,"y":0.59},{"r":"W","g":"M0290","x":6.5,"y":0.54},{"r":"W","g":"M0290","x":7,"y":0.4},{"r":"W","g":"M0290","x":7.5,"y":0.35},{"r":"W","g":"M0290","x":8,"y":0.02},
{"r":"W","g":"M0224","x":0.02,"y":0.93},{"r":"W","g":"M0224","x":0.2,"y":0.91},{"r":"W","g":"M0224","x":0.5,"y":0.86},{"r":"W","g":"M0224","x":1,"y":0.76},{"r":"W","g":"M0224","x":1.5,"y":0.66},{"r":"W","g":"M0224","x":2,"y":0.61},{"r":"W","g":"M0224","x":2.5,"y":0.58},{"r":"W","g":"M0224","x":3,"y":0.54},{"r":"W","g":"M0224","x":4,"y":0.48},{"r":"W","g":"M0224","x":5,"y":0.43},{"r":"W","g":"M0224","x":6,"y":0.41},{"r":"W","g":"M0224","x":7,"y":0.38},{"r":"W","g":"M0224","x":7.5,"y":0.34},{"r":"W","g":"M0224","x":8,"y":0.36},
{"r":"W","g":"M0163","x":0.02,"y":0.95},{"r":"W","g":"M0163","x":0.1,"y":0.86},{"r":"W","g":"M0163","x":0.3,"y":0.68},{"r":"W","g":"M0163","x":0.6,"y":0.58},{"r":"W","g":"M0163","x":1,"y":0.54},{"r":"W","g":"M0163","x":1.5,"y":0.5},{"r":"W","g":"M0163","x":2,"y":0.48},{"r":"W","g":"M0163","x":3,"y":0.44},{"r":"W","g":"M0163","x":4,"y":0.4},{"r":"W","g":"M0163","x":5,"y":0.39},{"r":"W","g":"M0163","x":6,"y":0.35},{"r":"W","g":"M0163","x":7,"y":0.3},{"r":"W","g":"M0163","x":8,"y":0.25},
{"r":"W","g":"M0305","x":0.02,"y":0.62},{"r":"W","g":"M0305","x":0.1,"y":0.53},{"r":"W","g":"M0305","x":0.2,"y":0.56},{"r":"W","g":"M0305","x":0.5,"y":0.66},{"r":"W","g":"M0305","x":1,"y":0.68},{"r":"W","g":"M0305","x":1.5,"y":0.67},{"r":"W","g":"M0305","x":2,"y":0.64},{"r":"W","g":"M0305","x":2.5,"y":0.58},{"r":"W","g":"M0305","x":3,"y":0.5},{"r":"W","g":"M0305","x":4,"y":0.46},{"r":"W","g":"M0305","x":5,"y":0.42},{"r":"W","g":"M0305","x":5.5,"y":0.38},{"r":"W","g":"M0305","x":6,"y":0.3},{"r":"W","g":"M0305","x":6.5,"y":0.24},{"r":"W","g":"M0305","x":7,"y":0.03},
{"r":"W","g":"M0300","x":0.02,"y":0.5},{"r":"W","g":"M0300","x":0.1,"y":0.45},{"r":"W","g":"M0300","x":0.3,"y":0.44},{"r":"W","g":"M0300","x":0.5,"y":0.41},{"r":"W","g":"M0300","x":0.8,"y":0.42},{"r":"W","g":"M0300","x":1,"y":0.46},{"r":"W","g":"M0300","x":1.5,"y":0.52},{"r":"W","g":"M0300","x":2,"y":0.54},{"r":"W","g":"M0300","x":2.5,"y":0.55},{"r":"W","g":"M0300","x":3,"y":0.53},{"r":"W","g":"M0300","x":3.5,"y":0.52},{"r":"W","g":"M0300","x":4,"y":0.46},{"r":"W","g":"M0300","x":4.5,"y":0.36},{"r":"W","g":"M0300","x":5,"y":0.28},{"r":"W","g":"M0300","x":6,"y":0.14},{"r":"W","g":"M0300","x":6.5,"y":0.09},{"r":"W","g":"M0300","x":7.5,"y":0.09},{"r":"W","g":"M0300","x":8,"y":0.22},
{"r":"W","g":"M0227","x":0.02,"y":0.75},{"r":"W","g":"M0227","x":0.05,"y":0.45},{"r":"W","g":"M0227","x":0.1,"y":0.47},{"r":"W","g":"M0227","x":0.5,"y":0.44},{"r":"W","g":"M0227","x":1,"y":0.42},{"r":"W","g":"M0227","x":1.5,"y":0.39},{"r":"W","g":"M0227","x":2,"y":0.35},{"r":"W","g":"M0227","x":2.5,"y":0.34},{"r":"W","g":"M0227","x":3,"y":0.35},{"r":"W","g":"M0227","x":4,"y":0.35},{"r":"W","g":"M0227","x":5,"y":0.35},{"r":"W","g":"M0227","x":6,"y":0.34},{"r":"W","g":"M0227","x":7,"y":0.33},{"r":"W","g":"M0227","x":8,"y":0.3}
],
"leg":[
{"g":"M0163","x":0.37,"x2":1.69,"tx":1.87,"y":0.722},{"g":"M0224","x":0.37,"x2":1.69,"tx":1.87,"y":0.692},{"g":"M0227","x":0.37,"x2":1.69,"tx":1.87,"y":0.662},{"g":"M0300","x":0.37,"x2":1.69,"tx":1.87,"y":0.632},{"g":"M0305","x":0.37,"x2":1.69,"tx":1.87,"y":0.602},
{"g":"M0209","x":3.36,"x2":4.7,"tx":4.93,"y":0.722},{"g":"M0215","x":3.36,"x2":4.7,"tx":4.93,"y":0.692},{"g":"M0259","x":3.36,"x2":4.7,"tx":4.93,"y":0.662},{"g":"M0290","x":3.36,"x2":4.7,"tx":4.93,"y":0.632},{"g":"M0329","x":3.36,"x2":4.7,"tx":4.93,"y":0.602}
]
},
"columns":4,
"spacing":{"row":9,"column":13},
"bounds":"flush",
"concat":[
{"width":181,"height":163,"resolve":{"axis":{"x":"independent","y":"independent"}},
 "layer":[
  {"data":{"values":[{}]},"mark":{"type":"rect","color":"#c8c8c8"},"encoding":{"x":{"datum":0,"type":"quantitative","scale":{"domain":[0,8],"nice":false,"zero":false},"axis":null},"x2":{"datum":1}}},
  {"data":{"name":"obs"},"transform":[{"filter":"datum.r=='N'"}],"mark":{"type":"area","color":"#969696"},"encoding":{"x":{"field":"x","type":"quantitative","scale":{"domain":[0,8],"nice":false,"zero":false},"axis":null},"y":{"field":"lo","type":"quantitative","scale":{"domain":[0.6,1.12],"nice":false,"zero":false},"axis":null},"y2":{"field":"hi"}}},
  {"data":{"name":"obs"},"transform":[{"filter":"datum.r=='N'"}],"mark":{"type":"line","color":"#000","strokeDash":[5,4]},"encoding":{"x":{"field":"x","type":"quantitative","scale":{"domain":[0,8],"nice":false,"zero":false},"axis":null},"y":{"field":"m","type":"quantitative","scale":{"domain":[0.6,1.12],"nice":false,"zero":false},"axis":null}}},
  {"data":{"name":"sim"},"transform":[{"filter":"datum.r=='N'"}],"mark":{"type":"line","color":"#22dd22"},"encoding":{"x":{"field":"x","type":"quantitative","scale":{"domain":[0,8],"nice":false,"zero":false},"axis":null},"y":{"field":"y","type":"quantitative","scale":{"domain":[0.6,1.12],"nice":false,"zero":false},"axis":null},"strokeDash":{"field":"s","type":"nominal","scale":{"domain":["s","d","i","a"],"range":[[1,0],[1,2],[5,3],[1,0]]},"legend":null}}},
  {"data":{"values":[{"a":0,"b":8,"y":1.0}]},"mark":{"type":"rule","color":"#999","strokeDash":[1,2],"strokeWidth":1.5},"encoding":{"x":{"field":"a","type":"quantitative","scale":{"domain":[0,8],"nice":false,"zero":false},"axis":{"orient":"top","values":[0,1,2,3,4,5,6,7,8],"tickSize":{"condition":{"test":"datum.value % 2 == 0","value":-6},"value":-3},"labels":false,"title":null,"zindex":1}},"x2":{"field":"b"},"y":{"field":"y","type":"quantitative","scale":{"domain":[0.6,1.12],"nice":false,"zero":false},"axis":{"orient":"right","values":[0.6,0.62,0.64,0.66,0.68,0.7,0.72,0.74,0.76,0.78,0.8,0.82,0.84,0.86,0.88,0.9,0.92,0.94,0.96,0.98,1.0,1.02,1.04,1.06,1.08,1.1],"tickSize":{"condition":{"test":"abs(datum.value*10-round(datum.value*10))<0.01","value":-6},"value":-3},"labels":false,"title":null,"zindex":1}}}},
  {"data":{"name":"tot"},"transform":[{"filter":"datum.r=='N'"}],"mark":{"type":"line","clip":true},"encoding":{"x":{"field":"x","type":"quantitative","scale":{"domain":[0,8],"nice":false,"zero":false},"axis":{"orient":"bottom","values":[0,1,2,3,4,5,6,7,8],"tickSize":{"condition":{"test":"datum.value % 2 == 0","value":-6},"value":-3},"labels":false,"title":null,"zindex":1}},"y":{"field":"y","type":"quantitative","scale":{"domain":[0.6,1.12],"nice":false,"zero":false},"axis":{"orient":"left","values":[0.6,0.62,0.64,0.66,0.68,0.7,0.72,0.74,0.76,0.78,0.8,0.82,0.84,0.86,0.88,0.9,0.92,0.94,0.96,0.98,1.0,1.02,1.04,1.06,1.08,1.1],"tickSize":{"condition":{"test":"abs(datum.value*10-round(datum.value*10))<0.01","value":-6},"value":-3},"labelPadding":9,"labelExpr":"abs(datum.value*10-round(datum.value*10))<0.01 ? format(datum.value,'.1f') : ''","title":"log(Ageₛₜₐᵣₛ) [Gyr]","titlePadding":4,"zindex":1}},"color":{"field":"g","type":"nominal","scale":{"domain":["M0163","M0224","M0227","M0300","M0305","M0209","M0215","M0259","M0290","M0329"],"range":["#000000","#1e1e8c","#1010f0","#6420dc","#500050","#b40000","#ff2800","#ffa040","#c0b000","#ffff20"]},"legend":null}}},
  {"data":{"values":[{"x":0.34,"x2":1.74,"y":0.651}]},"mark":{"type":"rule","color":"#22dd22","strokeWidth":1.5},"encoding":{"x":{"field":"x","type":"quantitative","scale":{"domain":[0,8],"nice":false,"zero":false},"axis":null},"x2":{"field":"x2"},"y":{"field":"y","type":"quantitative","scale":{"domain":[0.6,1.12],"nice":false,"zero":false},"axis":null}}},
  {"data":{"values":[{"x":0.34,"x2":1.74,"y":0.619}]},"mark":{"type":"rule","color":"#000","strokeWidth":1.5,"strokeDash":[5,4]},"encoding":{"x":{"field":"x","type":"quantitative","scale":{"domain":[0,8],"nice":false,"zero":false},"axis":null},"x2":{"field":"x2"},"y":{"field":"y","type":"quantitative","scale":{"domain":[0.6,1.12],"nice":false,"zero":false},"axis":null}}},
  {"data":{"values":[{"t":"mean sim","x":1.9,"y":0.651},{"t":"mean obs (LaBarbera+12)","x":1.9,"y":0.619}]},"mark":{"type":"text","align":"left","baseline":"middle","fontSize":9,"font":"DejaVu Serif"},"encoding":{"x":{"field":"x","type":"quantitative","scale":{"domain":[0,8],"nice":false,"zero":false},"axis":null},"y":{"field":"y","type":"quantitative","scale":{"domain":[0.6,1.12],"nice":false,"zero":false},"axis":null},"text":{"field":"t"}}},
  {"data":{"values":[{"t":"z=0","x":0.7,"y":1.06}]},"mark":{"type":"text","align":"left","baseline":"middle","fontSize":13},"encoding":{"x":{"field":"x","type":"quantitative","scale":{"domain":[0,8],"nice":false,"zero":false},"axis":null},"y":{"field":"y","type":"quantitative","scale":{"domain":[0.6,1.12],"nice":false,"zero":false},"axis":null},"text":{"field":"t"}}},
  {"data":{"values":[{"t":"MNoW","x":7.3,"y":0.66}]},"mark":{"type":"text","align":"right","baseline":"middle","fontSize":11.5},"encoding":{"x":{"field":"x","type":"quantitative","scale":{"domain":[0,8],"nice":false,"zero":false},"axis":null},"y":{"field":"y","type":"quantitative","scale":{"domain":[0.6,1.12],"nice":false,"zero":false},"axis":null},"text":{"field":"t"}}}
 ]},
{"width":181,"height":163,"resolve":{"axis":{"x":"independent","y":"independent"}},
 "layer":[
  {"data":{"values":[{}]},"mark":{"type":"rect","color":"#c8c8c8"},"encoding":{"x":{"datum":0,"type":"quantitative","scale":{"domain":[0,8],"nice":false,"zero":false},"axis":null},"x2":{"datum":1}}},
  {"data":{"values":[{"a":0,"b":8,"y":1.0}]},"mark":{"type":"rule","color":"#999","strokeDash":[1,2],"strokeWidth":1.5},"encoding":{"x":{"field":"a","type":"quantitative","scale":{"domain":[0,8],"nice":false,"zero":false},"axis":{"orient":"top","values":[0,1,2,3,4,5,6,7,8],"tickSize":{"condition":{"test":"datum.value % 2 == 0","value":-6},"value":-3},"labels":false,"title":null,"zindex":1}},"x2":{"field":"b"},"y":{"field":"y","type":"quantitative","scale":{"domain":[0.6,1.12],"nice":false,"zero":false},"axis":{"orient":"right","values":[0.6,0.62,0.64,0.66,0.68,0.7,0.72,0.74,0.76,0.78,0.8,0.82,0.84,0.86,0.88,0.9,0.92,0.94,0.96,0.98,1.0,1.02,1.04,1.06,1.08,1.1],"tickSize":{"condition":{"test":"abs(datum.value*10-round(datum.value*10))<0.01","value":-6},"value":-3},"labels":false,"title":null,"zindex":1}}}},
  {"data":{"name":"comp"},"transform":[{"filter":"datum.r=='N'"}],"mark":{"type":"line","clip":true},"encoding":{"x":{"field":"x","type":"quantitative","scale":{"domain":[0,8],"nice":false,"zero":false},"axis":{"orient":"bottom","values":[0,1,2,3,4,5,6,7,8],"tickSize":{"condition":{"test":"datum.value % 2 == 0","value":-6},"value":-3},"labels":false,"title":null,"zindex":1}},"y":{"field":"y","type":"quantitative","scale":{"domain":[0.6,1.12],"nice":false,"zero":false},"axis":{"orient":"left","values":[0.6,0.62,0.64,0.66,0.68,0.7,0.72,0.74,0.76,0.78,0.8,0.82,0.84,0.86,0.88,0.9,0.92,0.94,0.96,0.98,1.0,1.02,1.04,1.06,1.08,1.1],"tickSize":{"condition":{"test":"abs(datum.value*10-round(datum.value*10))<0.01","value":-6},"value":-3},"labels":false,"title":null,"zindex":1}},"color":{"field":"g","type":"nominal","scale":{"domain":["M0163","M0224","M0227","M0300","M0305","M0209","M0215","M0259","M0290","M0329"],"range":["#000000","#1e1e8c","#1010f0","#6420dc","#500050","#b40000","#ff2800","#ffa040","#c0b000","#ffff20"]},"legend":null},"strokeDash":{"field":"c","type":"nominal","scale":{"domain":["s","d","i","a"],"range":[[1,0],[1,2],[5,3],[1,0]]},"legend":null}}},
  {"data":{"values":[{"t":"insitu","c":"i","x":6.1,"x2":7.5,"tx":5.95,"y":0.66},{"t":"accreted","c":"a","x":6.1,"x2":7.5,"tx":5.95,"y":0.628}]},"layer":[
   {"mark":{"type":"rule","color":"#000","strokeWidth":1.5},"encoding":{"x":{"field":"x","type":"quantitative","scale":{"domain":[0,8],"nice":false,"zero":false},"axis":null},"x2":{"field":"x2"},"y":{"field":"y","type":"quantitative","scale":{"domain":[0.6,1.12],"nice":false,"zero":false},"axis":null},"strokeDash":{"field":"c","type":"nominal","scale":{"domain":["s","d","i","a"],"range":[[1,0],[1,2],[5,3],[1,0]]},"legend":null}}},
   {"mark":{"type":"text","align":"right","baseline":"middle","fontSize":10},"encoding":{"x":{"field":"tx","type":"quantitative","scale":{"domain":[0,8],"nice":false,"zero":false},"axis":null},"y":{"field":"y","type":"quantitative","scale":{"domain":[0.6,1.12],"nice":false,"zero":false},"axis":null},"text":{"field":"t"}}}
  ]}
 ]},
{"width":29,"height":163,"view":{"stroke":null},"data":{"values":[]},"mark":"point","encoding":{}},
{"width":175,"height":163,"resolve":{"axis":{"x":"independent","y":"independent"}},
 "layer":[
  {"data":{"values":[{}]},"mark":{"type":"rect","color":"#c8c8c8"},"encoding":{"x":{"datum":0,"type":"quantitative","scale":{"domain":[0,8],"nice":false,"zero":false},"axis":null},"x2":{"datum":1}}},
  {"data":{"values":[{"a":0,"b":8,"y":0.5}]},"mark":{"type":"rule","color":"#999","strokeWidth":1.5},"encoding":{"x":{"field":"a","type":"quantitative","scale":{"domain":[0,8],"nice":false,"zero":false},"axis":{"orient":"top","values":[0,1,2,3,4,5,6,7,8],"tickSize":{"condition":{"test":"datum.value % 2 == 0","value":-6},"value":-3},"labels":false,"title":null,"zindex":1}},"x2":{"field":"b"},"y":{"field":"y","type":"quantitative","scale":{"domain":[-0.01,1.01],"nice":false,"zero":false},"axis":{"orient":"right","values":[0,0.05,0.1,0.15,0.2,0.25,0.3,0.35,0.4,0.45,0.5,0.55,0.6,0.65,0.7,0.75,0.8,0.85,0.9,0.95,1.0],"tickSize":{"condition":{"test":"abs(datum.value*5-round(datum.value*5))<0.01","value":-6},"value":-3},"labels":false,"title":null,"zindex":1}}}},
  {"data":{"name":"frac"},"transform":[{"filter":"datum.r=='N'"}],"mark":{"type":"line","clip":true},"encoding":{"x":{"field":"x","type":"quantitative","scale":{"domain":[0,8],"nice":false,"zero":false},"axis":{"orient":"bottom","values":[0,1,2,3,4,5,6,7,8],"tickSize":{"condition":{"test":"datum.value % 2 == 0","value":-6},"value":-3},"labels":false,"title":null,"zindex":1}},"y":{"field":"y","type":"quantitative","scale":{"domain":[-0.01,1.01],"nice":false,"zero":false},"axis":{"orient":"left","values":[0,0.05,0.1,0.15,0.2,0.25,0.3,0.35,0.4,0.45,0.5,0.55,0.6,0.65,0.7,0.75,0.8,0.85,0.9,0.95,1.0],"tickSize":{"condition":{"test":"abs(datum.value*5-round(datum.value*5))<0.01","value":-6},"value":-3},"labelPadding":9,"labelExpr":"abs(datum.value*5-round(datum.value*5))<0.01 ? format(datum.value,'.1f') : ''","title":"Mᵢₙₛᵢₜᵤ/Mₜₒₜ","titlePadding":4,"zindex":1}},"color":{"field":"g","type":"nominal","scale":{"domain":["M0163","M0224","M0227","M0300","M0305","M0209","M0215","M0259","M0290","M0329"],"range":["#000000","#1e1e8c","#1010f0","#6420dc","#500050","#b40000","#ff2800","#ffa040","#c0b000","#ffff20"]},"legend":null}}}
 ]},
{"width":181,"height":151,"resolve":{"axis":{"x":"independent","y":"independent"}},
 "layer":[
  {"data":{"values":[{}]},"mark":{"type":"rect","color":"#c8c8c8"},"encoding":{"x":{"datum":0,"type":"quantitative","scale":{"domain":[0,8],"nice":false,"zero":false},"axis":null},"x2":{"datum":1}}},
  {"data":{"name":"obs"},"transform":[{"filter":"datum.r=='W'"}],"mark":{"type":"area","color":"#969696"},"encoding":{"x":{"field":"x","type":"quantitative","scale":{"domain":[0,8],"nice":false,"zero":false},"axis":null},"y":{"field":"lo","type":"quantitative","scale":{"domain":[0.6,1.12],"nice":false,"zero":false},"axis":null},"y2":{"field":"hi"}}},
  {"data":{"name":"obs"},"transform":[{"filter":"datum.r=='W'"}],"mark":{"type":"line","color":"#000","strokeDash":[5,4]},"encoding":{"x":{"field":"x","type":"quantitative","scale":{"domain":[0,8],"nice":false,"zero":false},"axis":null},"y":{"field":"m","type":"quantitative","scale":{"domain":[0.6,1.12],"nice":false,"zero":false},"axis":null}}},
  {"data":{"name":"sim"},"transform":[{"filter":"datum.r=='W'"}],"mark":{"type":"line","color":"#22dd22"},"encoding":{"x":{"field":"x","type":"quantitative","scale":{"domain":[0,8],"nice":false,"zero":false},"axis":null},"y":{"field":"y","type":"quantitative","scale":{"domain":[0.6,1.12],"nice":false,"zero":false},"axis":null},"strokeDash":{"field":"s","type":"nominal","scale":{"domain":["s","d","i","a"],"range":[[1,0],[1,2],[5,3],[1,0]]},"legend":null}}},
  {"data":{"values":[{"a":0,"b":8,"y":1.0}]},"mark":{"type":"rule","color":"#999","strokeDash":[1,2],"strokeWidth":1.5},"encoding":{"x":{"field":"a","type":"quantitative","scale":{"domain":[0,8],"nice":false,"zero":false},"axis":{"orient":"top","values":[0,1,2,3,4,5,6,7,8],"tickSize":{"condition":{"test":"datum.value % 2 == 0","value":-6},"value":-3},"labels":false,"title":null,"zindex":1}},"x2":{"field":"b"},"y":{"field":"y","type":"quantitative","scale":{"domain":[0.6,1.12],"nice":false,"zero":false},"axis":{"orient":"right","values":[0.6,0.62,0.64,0.66,0.68,0.7,0.72,0.74,0.76,0.78,0.8,0.82,0.84,0.86,0.88,0.9,0.92,0.94,0.96,0.98,1.0,1.02,1.04,1.06,1.08,1.1],"tickSize":{"condition":{"test":"abs(datum.value*10-round(datum.value*10))<0.01","value":-6},"value":-3},"labels":false,"title":null,"zindex":1}}}},
  {"data":{"name":"tot"},"transform":[{"filter":"datum.r=='W'"}],"mark":{"type":"line","clip":true},"encoding":{"x":{"field":"x","type":"quantitative","scale":{"domain":[0,8],"nice":false,"zero":false},"axis":{"orient":"bottom","values":[0,1,2,3,4,5,6,7,8],"tickSize":{"condition":{"test":"datum.value % 2 == 0","value":-6},"value":-3},"labelPadding":11,"labelExpr":"datum.value % 2 == 0 ? datum.label : ''","title":"R/R_eff","titlePadding":0,"zindex":1}},"y":{"field":"y","type":"quantitative","scale":{"domain":[0.6,1.12],"nice":false,"zero":false},"axis":{"orient":"left","values":[0.6,0.62,0.64,0.66,0.68,0.7,0.72,0.74,0.76,0.78,0.8,0.82,0.84,0.86,0.88,0.9,0.92,0.94,0.96,0.98,1.0,1.02,1.04,1.06,1.08,1.1],"tickSize":{"condition":{"test":"abs(datum.value*10-round(datum.value*10))<0.01","value":-6},"value":-3},"labelPadding":9,"labelExpr":"abs(datum.value*10-round(datum.value*10))<0.01 ? format(datum.value,'.1f') : ''","title":"log(Ageₛₜₐᵣₛ) [Gyr]","titlePadding":4,"zindex":1}},"color":{"field":"g","type":"nominal","scale":{"domain":["M0163","M0224","M0227","M0300","M0305","M0209","M0215","M0259","M0290","M0329"],"range":["#000000","#1e1e8c","#1010f0","#6420dc","#500050","#b40000","#ff2800","#ffa040","#c0b000","#ffff20"]},"legend":null}}},
  {"data":{"values":[{"t":"z=0","x":0.7,"y":1.05}]},"mark":{"type":"text","align":"left","baseline":"middle","fontSize":13},"encoding":{"x":{"field":"x","type":"quantitative","scale":{"domain":[0,8],"nice":false,"zero":false},"axis":null},"y":{"field":"y","type":"quantitative","scale":{"domain":[0.6,1.12],"nice":false,"zero":false},"axis":null},"text":{"field":"t"}}},
  {"data":{"values":[{"t":"WM","x":7.2,"y":1.05}]},"mark":{"type":"text","align":"right","baseline":"middle","fontSize":12},"encoding":{"x":{"field":"x","type":"quantitative","scale":{"domain":[0,8],"nice":false,"zero":false},"axis":null},"y":{"field":"y","type":"quantitative","scale":{"domain":[0.6,1.12],"nice":false,"zero":false},"axis":null},"text":{"field":"t"}}}
 ]},
{"width":181,"height":151,"resolve":{"axis":{"x":"independent","y":"independent"}},
 "layer":[
  {"data":{"values":[{}]},"mark":{"type":"rect","color":"#c8c8c8"},"encoding":{"x":{"datum":0,"type":"quantitative","scale":{"domain":[0,8],"nice":false,"zero":false},"axis":null},"x2":{"datum":1}}},
  {"data":{"values":[{"a":0,"b":8,"y":1.0}]},"mark":{"type":"rule","color":"#999","strokeDash":[1,2],"strokeWidth":1.5},"encoding":{"x":{"field":"a","type":"quantitative","scale":{"domain":[0,8],"nice":false,"zero":false},"axis":{"orient":"top","values":[0,1,2,3,4,5,6,7,8],"tickSize":{"condition":{"test":"datum.value % 2 == 0","value":-6},"value":-3},"labels":false,"title":null,"zindex":1}},"x2":{"field":"b"},"y":{"field":"y","type":"quantitative","scale":{"domain":[0.6,1.12],"nice":false,"zero":false},"axis":{"orient":"right","values":[0.6,0.62,0.64,0.66,0.68,0.7,0.72,0.74,0.76,0.78,0.8,0.82,0.84,0.86,0.88,0.9,0.92,0.94,0.96,0.98,1.0,1.02,1.04,1.06,1.08,1.1],"tickSize":{"condition":{"test":"abs(datum.value*10-round(datum.value*10))<0.01","value":-6},"value":-3},"labels":false,"title":null,"zindex":1}}}},
  {"data":{"name":"comp"},"transform":[{"filter":"datum.r=='W'"}],"mark":{"type":"line","clip":true},"encoding":{"x":{"field":"x","type":"quantitative","scale":{"domain":[0,8],"nice":false,"zero":false},"axis":{"orient":"bottom","values":[0,1,2,3,4,5,6,7,8],"tickSize":{"condition":{"test":"datum.value % 2 == 0","value":-6},"value":-3},"labelPadding":11,"labelExpr":"datum.value % 2 == 0 ? datum.label : ''","title":"R/R_eff","titlePadding":0,"zindex":1}},"y":{"field":"y","type":"quantitative","scale":{"domain":[0.6,1.12],"nice":false,"zero":false},"axis":{"orient":"left","values":[0.6,0.62,0.64,0.66,0.68,0.7,0.72,0.74,0.76,0.78,0.8,0.82,0.84,0.86,0.88,0.9,0.92,0.94,0.96,0.98,1.0,1.02,1.04,1.06,1.08,1.1],"tickSize":{"condition":{"test":"abs(datum.value*10-round(datum.value*10))<0.01","value":-6},"value":-3},"labels":false,"title":null,"zindex":1}},"color":{"field":"g","type":"nominal","scale":{"domain":["M0163","M0224","M0227","M0300","M0305","M0209","M0215","M0259","M0290","M0329"],"range":["#000000","#1e1e8c","#1010f0","#6420dc","#500050","#b40000","#ff2800","#ffa040","#c0b000","#ffff20"]},"legend":null},"strokeDash":{"field":"c","type":"nominal","scale":{"domain":["s","d","i","a"],"range":[[1,0],[1,2],[5,3],[1,0]]},"legend":null}}},
  {"data":{"name":"leg"},"layer":[
   {"mark":{"type":"rule","strokeWidth":1.5},"encoding":{"x":{"field":"x","type":"quantitative","scale":{"domain":[0,8],"nice":false,"zero":false},"axis":null},"x2":{"field":"x2"},"y":{"field":"y","type":"quantitative","scale":{"domain":[0.6,1.12],"nice":false,"zero":false},"axis":null},"color":{"field":"g","type":"nominal","scale":{"domain":["M0163","M0224","M0227","M0300","M0305","M0209","M0215","M0259","M0290","M0329"],"range":["#000000","#1e1e8c","#1010f0","#6420dc","#500050","#b40000","#ff2800","#ffa040","#c0b000","#ffff20"]},"legend":null}}},
   {"mark":{"type":"text","align":"left","baseline":"middle","fontSize":8},"encoding":{"x":{"field":"tx","type":"quantitative","scale":{"domain":[0,8],"nice":false,"zero":false},"axis":null},"y":{"field":"y","type":"quantitative","scale":{"domain":[0.6,1.12],"nice":false,"zero":false},"axis":null},"text":{"field":"g"}}}
  ]},
  {"data":{"values":[{"t":"Major merger","x":0.3,"y":0.758},{"t":"Minor merger","x":3.36,"y":0.758}]},"mark":{"type":"text","align":"left","baseline":"middle","fontSize":10},"encoding":{"x":{"field":"x","type":"quantitative","scale":{"domain":[0,8],"nice":false,"zero":false},"axis":null},"y":{"field":"y","type":"quantitative","scale":{"domain":[0.6,1.12],"nice":false,"zero":false},"axis":null},"text":{"field":"t"}}}
 ]},
{"width":29,"height":151,"view":{"stroke":null},"data":{"values":[]},"mark":"point","encoding":{}},
{"width":175,"height":151,"resolve":{"axis":{"x":"independent","y":"independent"}},
 "layer":[
  {"data":{"values":[{}]},"mark":{"type":"rect","color":"#c8c8c8"},"encoding":{"x":{"datum":0,"type":"quantitative","scale":{"domain":[0,8],"nice":false,"zero":false},"axis":null},"x2":{"datum":1}}},
  {"data":{"values":[{"a":0,"b":8,"y":0.5}]},"mark":{"type":"rule","color":"#999","strokeWidth":1.5},"encoding":{"x":{"field":"a","type":"quantitative","scale":{"domain":[0,8],"nice":false,"zero":false},"axis":{"orient":"top","values":[0,1,2,3,4,5,6,7,8],"tickSize":{"condition":{"test":"datum.value % 2 == 0","value":-6},"value":-3},"labels":false,"title":null,"zindex":1}},"x2":{"field":"b"},"y":{"field":"y","type":"quantitative","scale":{"domain":[-0.01,1.02],"nice":false,"zero":false},"axis":{"orient":"right","values":[0,0.05,0.1,0.15,0.2,0.25,0.3,0.35,0.4,0.45,0.5,0.55,0.6,0.65,0.7,0.75,0.8,0.85,0.9,0.95,1.0],"tickSize":{"condition":{"test":"abs(datum.value*5-round(datum.value*5))<0.01","value":-6},"value":-3},"labels":false,"title":null,"zindex":1}}}},
  {"data":{"name":"frac"},"transform":[{"filter":"datum.r=='W'"}],"mark":{"type":"line","clip":true},"encoding":{"x":{"field":"x","type":"quantitative","scale":{"domain":[0,8],"nice":false,"zero":false},"axis":{"orient":"bottom","values":[0,1,2,3,4,5,6,7,8],"tickSize":{"condition":{"test":"datum.value % 2 == 0","value":-6},"value":-3},"labelPadding":11,"labelExpr":"datum.value % 2 == 0 ? datum.label : ''","title":"R/R_eff","titlePadding":0,"zindex":1}},"y":{"field":"y","type":"quantitative","scale":{"domain":[-0.01,1.02],"nice":false,"zero":false},"axis":{"orient":"left","values":[0,0.05,0.1,0.15,0.2,0.25,0.3,0.35,0.4,0.45,0.5,0.55,0.6,0.65,0.7,0.75,0.8,0.85,0.9,0.95,1.0],"tickSize":{"condition":{"test":"abs(datum.value*5-round(datum.value*5))<0.01","value":-6},"value":-3},"labelPadding":9,"labelExpr":"abs(datum.value*5-round(datum.value*5))<0.01 ? format(datum.value,'.1f') : ''","title":"Mᵢₙₛᵢₜᵤ/Mₜₒₜ","titlePadding":4,"zindex":1}},"color":{"field":"g","type":"nominal","scale":{"domain":["M0163","M0224","M0227","M0300","M0305","M0209","M0215","M0259","M0290","M0329"],"range":["#000000","#1e1e8c","#1010f0","#6420dc","#500050","#b40000","#ff2800","#ffa040","#c0b000","#ffff20"]},"legend":null}}}
 ]}
]
}
